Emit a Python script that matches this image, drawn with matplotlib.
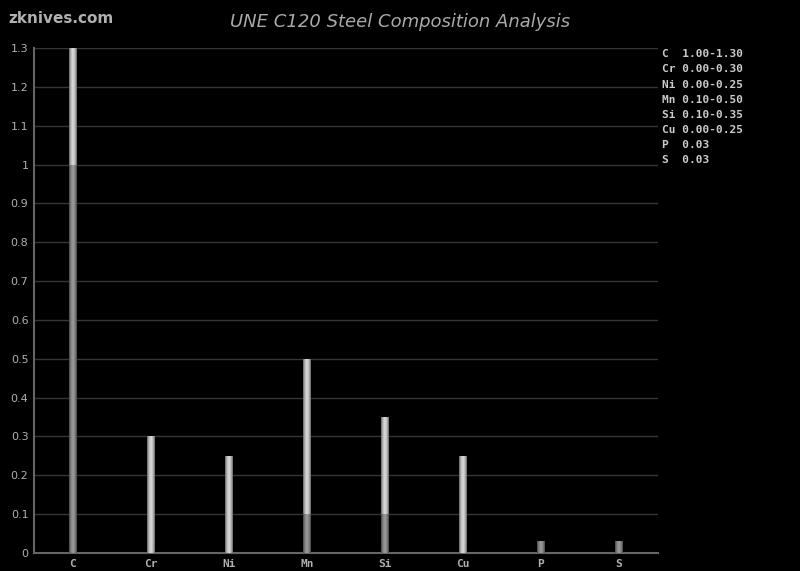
import matplotlib
matplotlib.use("Agg")
import matplotlib.pyplot as plt
import numpy as np

# composition ranges, % by weight
elements = ["C", "Cr", "Ni", "Mn", "Si", "Cu", "P", "S"]
min_vals = [1.00, 0.00, 0.00, 0.10, 0.10, 0.00, 0.03, 0.03]
max_vals = [1.30, 0.30, 0.25, 0.50, 0.35, 0.25, 0.03, 0.03]
legend_lines = ["C  1.00-1.30", "Cr 0.00-0.30", "Ni 0.00-0.25", "Mn 0.10-0.50",
                "Si 0.10-0.35", "Cu 0.00-0.25", "P  0.03", "S  0.03"]
yticks = [0, 0.1, 0.2, 0.3, 0.4, 0.5, 0.6, 0.7, 0.8, 0.9, 1, 1.1, 1.2, 1.3]
ytick_labels = ["0", "0.1", "0.2", "0.3", "0.4", "0.5", "0.6", "0.7", "0.8",
                "0.9", "1", "1.1", "1.2", "1.3"]

fig = plt.figure(figsize=(8, 5.71), dpi=100, facecolor="black")
ax = fig.add_axes([0.0425, 0.0315, 0.78, 0.8845], facecolor="black")

x = np.arange(len(elements))
bar_w = 0.1
n_strips = 9
offsets = np.linspace(-bar_w / 2, bar_w / 2, n_strips + 1)
strip_w = bar_w / n_strips
# brightness profile across the bar: dark edges, light middle
profile = 1 - np.abs(np.linspace(-1, 1, n_strips)) ** 2 * 0.45

for k in range(n_strips):
    pos = x + offsets[k] + strip_w / 2
    lo = np.array(min_vals)
    hi = np.array(max_vals)
    # lower (minimum) part, darker
    c_lo = 0.6 * profile[k]
    ax.bar(pos, lo, width=strip_w * 1.05, color=(c_lo, c_lo, c_lo), linewidth=0, zorder=3)
    # range part, lighter
    c_hi = 0.85 * profile[k]
    ax.bar(pos, hi - lo, bottom=lo, width=strip_w * 1.05, color=(c_hi, c_hi, c_hi),
           linewidth=0, zorder=3)

ax.set_xlim(-0.5, len(elements) - 0.5)
ax.set_ylim(0, 1.3)
ax.set_yticks(yticks)
ax.set_yticklabels(ytick_labels)
ax.set_xticks(x)
ax.set_xticklabels(elements, family="DejaVu Sans Mono", fontweight="bold")
ax.tick_params(axis="both", colors="#b0b0b0", labelsize=8, length=0, pad=4)
ax.grid(axis="y", color="#363636", linewidth=1, zorder=0)
for side in ["top", "right"]:
    ax.spines[side].set_visible(False)
for side in ["left", "bottom"]:
    ax.spines[side].set_color("#666666")
    ax.spines[side].set_linewidth(1.5)

for i, line in enumerate(legend_lines):
    fig.text(0.828, 0.905 - i * 0.0265, line, color="#cccccc", fontsize=8,
             family="DejaVu Sans Mono", fontweight="bold", va="center")

fig.text(0.5, 0.962, "UNE C120 Steel Composition Analysis", color="#aaaaaa",
         fontsize=13, style="italic", ha="center", va="center")
fig.text(0.01, 0.968, "zknives.com", color="#b0b0b0", fontsize=11,
         fontweight="semibold", ha="left", va="center")

plt.savefig("out.png", dpi=100, facecolor="black")
